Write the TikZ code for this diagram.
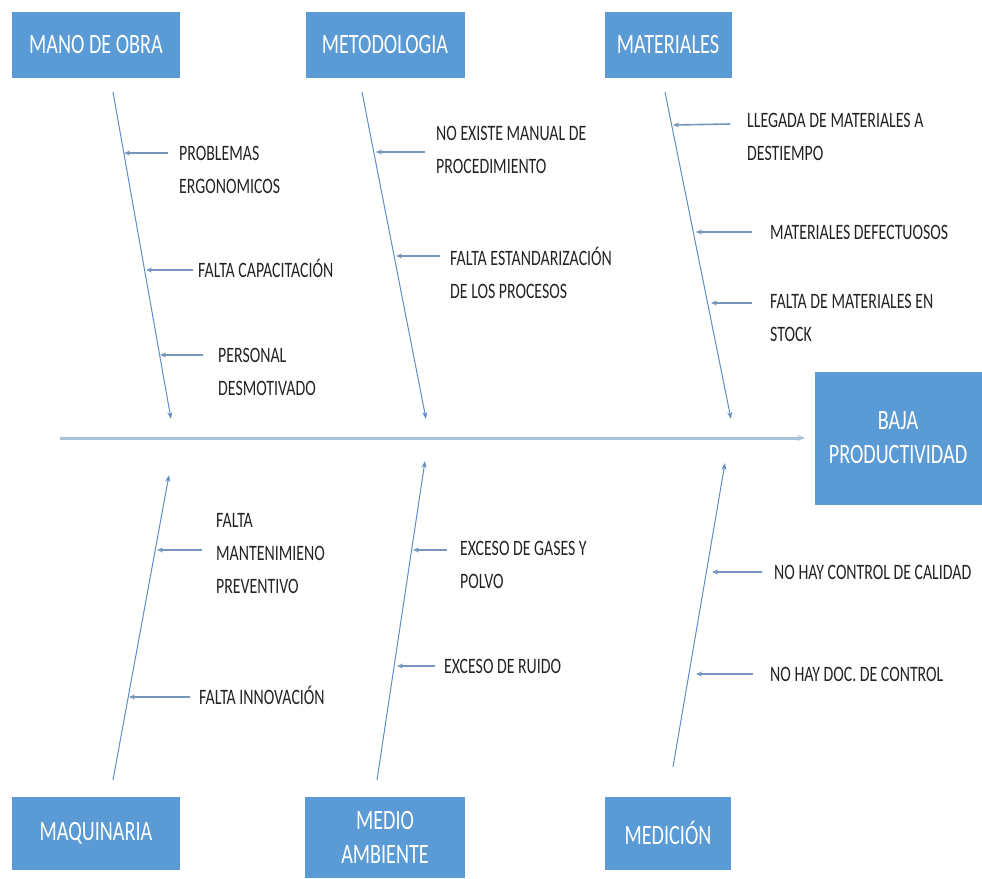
\documentclass[tikz,border=0pt]{standalone}
\usepackage{fontspec}
\setmainfont{Carlito}[FakeStretch=0.72]
\usepackage{tikz}
\usetikzlibrary{arrows.meta}
\definecolor{boxblue}{RGB}{91,155,213}
\definecolor{bonecol}{RGB}{96,140,196}
\definecolor{twigcol}{RGB}{118,150,188}
\definecolor{spinecol}{RGB}{168,194,220}
\definecolor{labelcol}{RGB}{35,35,35}
\tikzset{%
	category/.style = {fill=boxblue, text=white, align=center, inner sep=0pt, font=\fontsize{28}{34}\selectfont},
	cause/.style    = {text=labelcol, align=left, inner sep=0pt, anchor=base west, font=\fontsize{22}{33}\selectfont},
	bone/.style     = {draw=bonecol, line width=1pt, -{Stealth[length=7pt,width=5pt]}},
	twig/.style     = {draw=twigcol, line width=1.6pt, -{Stealth[length=6pt,width=5pt]}},
	spine/.style    = {draw=spinecol, line width=3pt, -{Stealth[length=8pt,width=6pt]}},
}

\begin{document}
\begin{tikzpicture}[x=1pt,y=-1pt]
	\useasboundingbox (0,0) rectangle (982,878);

	% categories
	\node [category, minimum width=168, minimum height=66] (mo) at (96,45) {MANO DE OBRA};
	\node [category, minimum width=159, minimum height=66] (me) at (385,45) {METODOLOGIA};
	\node [category, minimum width=127, minimum height=66] (ma) at (668,45) {MATERIALES};
	\node [category, minimum width=168, minimum height=73] (mq) at (96,833) {MAQUINARIA};
	\node [category, minimum width=160, minimum height=81] (mam) at (385,837) {MEDIO\\AMBIENTE};
	\node [category, minimum width=126, minimum height=73] (mc) at (668,833) {MEDICIÓN};
	\node [category, minimum width=167, minimum height=133] (baja) at (898,438) {BAJA\\PRODUCTIVIDAD};

	% spine
	\coordinate (sp) at (60,438);
	\draw[spine, shorten >=9pt] (sp) -- (baja);

	% bones
	\coordinate (moA) at (113,92);  \coordinate (moB) at (171,419);
	\coordinate (meA) at (362,92);  \coordinate (meB) at (426,419);
	\coordinate (maA) at (665,92);  \coordinate (maB) at (731,419);
	\coordinate (mqA) at (113,780); \coordinate (mqB) at (169,475);
	\coordinate (mamA) at (377,780); \coordinate (mamB) at (425,461);
	\coordinate (mcA) at (673,767); \coordinate (mcB) at (725,463);
	\draw[bone] (moA) -- (moB);
	\draw[bone] (meA) -- (meB);
	\draw[bone] (maA) -- (maB);
	\draw[bone] (mqA) -- (mqB);
	\draw[bone] (mamA) -- (mamB);
	\draw[bone] (mcA) -- (mcB);

	% mano de obra
	\node [cause] (mo1) at (179,193) {PROBLEMAS\\ERGONOMICOS};
	\node [cause] (mo2) at (198,277) {FALTA CAPACITACIÓN};
	\node [cause] (mo3) at (218,395) {PERSONAL\\DESMOTIVADO};
	\coordinate (mo1t) at (168,153); \coordinate (mo1h) at (124,153);
	\coordinate (mo2t) at (193,270); \coordinate (mo2h) at (146,270);
	\coordinate (mo3t) at (203,355); \coordinate (mo3h) at (160,355);
	\draw[twig] (mo1t) -- (mo1h);
	\draw[twig] (mo2t) -- (mo2h);
	\draw[twig] (mo3t) -- (mo3h);

	% metodologia
	\node [cause] (me1) at (436,173) {NO EXISTE MANUAL DE\\PROCEDIMIENTO};
	\node [cause] (me2) at (450,298) {FALTA ESTANDARIZACIÓN\\DE LOS PROCESOS};
	\coordinate (me1t) at (425,152); \coordinate (me1h) at (376,152);
	\coordinate (me2t) at (440,256); \coordinate (me2h) at (396,256);
	\draw[twig] (me1t) -- (me1h);
	\draw[twig] (me2t) -- (me2h);

	% materiales
	\node [cause] (ma1) at (747,160) {LLEGADA DE MATERIALES A\\DESTIEMPO};
	\node [cause] (ma2) at (770,239) {MATERIALES DEFECTUOSOS};
	\node [cause] (ma3) at (770,341) {FALTA DE MATERIALES EN\\STOCK};
	\coordinate (ma1t) at (730,124); \coordinate (ma1h) at (673,125);
	\coordinate (ma2t) at (752,232); \coordinate (ma2h) at (696,232);
	\coordinate (ma3t) at (752,303); \coordinate (ma3h) at (711,303);
	\draw[twig] (ma1t) -- (ma1h);
	\draw[twig] (ma2t) -- (ma2h);
	\draw[twig] (ma3t) -- (ma3h);

	% maquinaria
	\node [cause] (mq1) at (216,593) {FALTA\\MANTENIMIENO\\PREVENTIVO};
	\node [cause] (mq2) at (199,704) {FALTA INNOVACIÓN};
	\coordinate (mq1t) at (202,550); \coordinate (mq1h) at (157,550);
	\coordinate (mq2t) at (190,697); \coordinate (mq2h) at (129,697);
	\draw[twig] (mq1t) -- (mq1h);
	\draw[twig] (mq2t) -- (mq2h);

	% medio ambiente
	\node [cause] (mam1) at (460,588) {EXCESO DE GASES Y\\POLVO};
	\node [cause] (mam2) at (444,673) {EXCESO DE RUIDO};
	\coordinate (mam1t) at (447,550); \coordinate (mam1h) at (413,550);
	\coordinate (mam2t) at (435,666); \coordinate (mam2h) at (397,666);
	\draw[twig] (mam1t) -- (mam1h);
	\draw[twig] (mam2t) -- (mam2h);

	% medicion
	\node [cause] (mc1) at (774,579) {NO HAY CONTROL DE CALIDAD};
	\node [cause] (mc2) at (770,681) {NO HAY DOC. DE CONTROL};
	\coordinate (mc1t) at (762,572); \coordinate (mc1h) at (712,572);
	\coordinate (mc2t) at (753,674); \coordinate (mc2h) at (696,674);
	\draw[twig] (mc1t) -- (mc1h);
	\draw[twig] (mc2t) -- (mc2h);
\end{tikzpicture}
\end{document}
